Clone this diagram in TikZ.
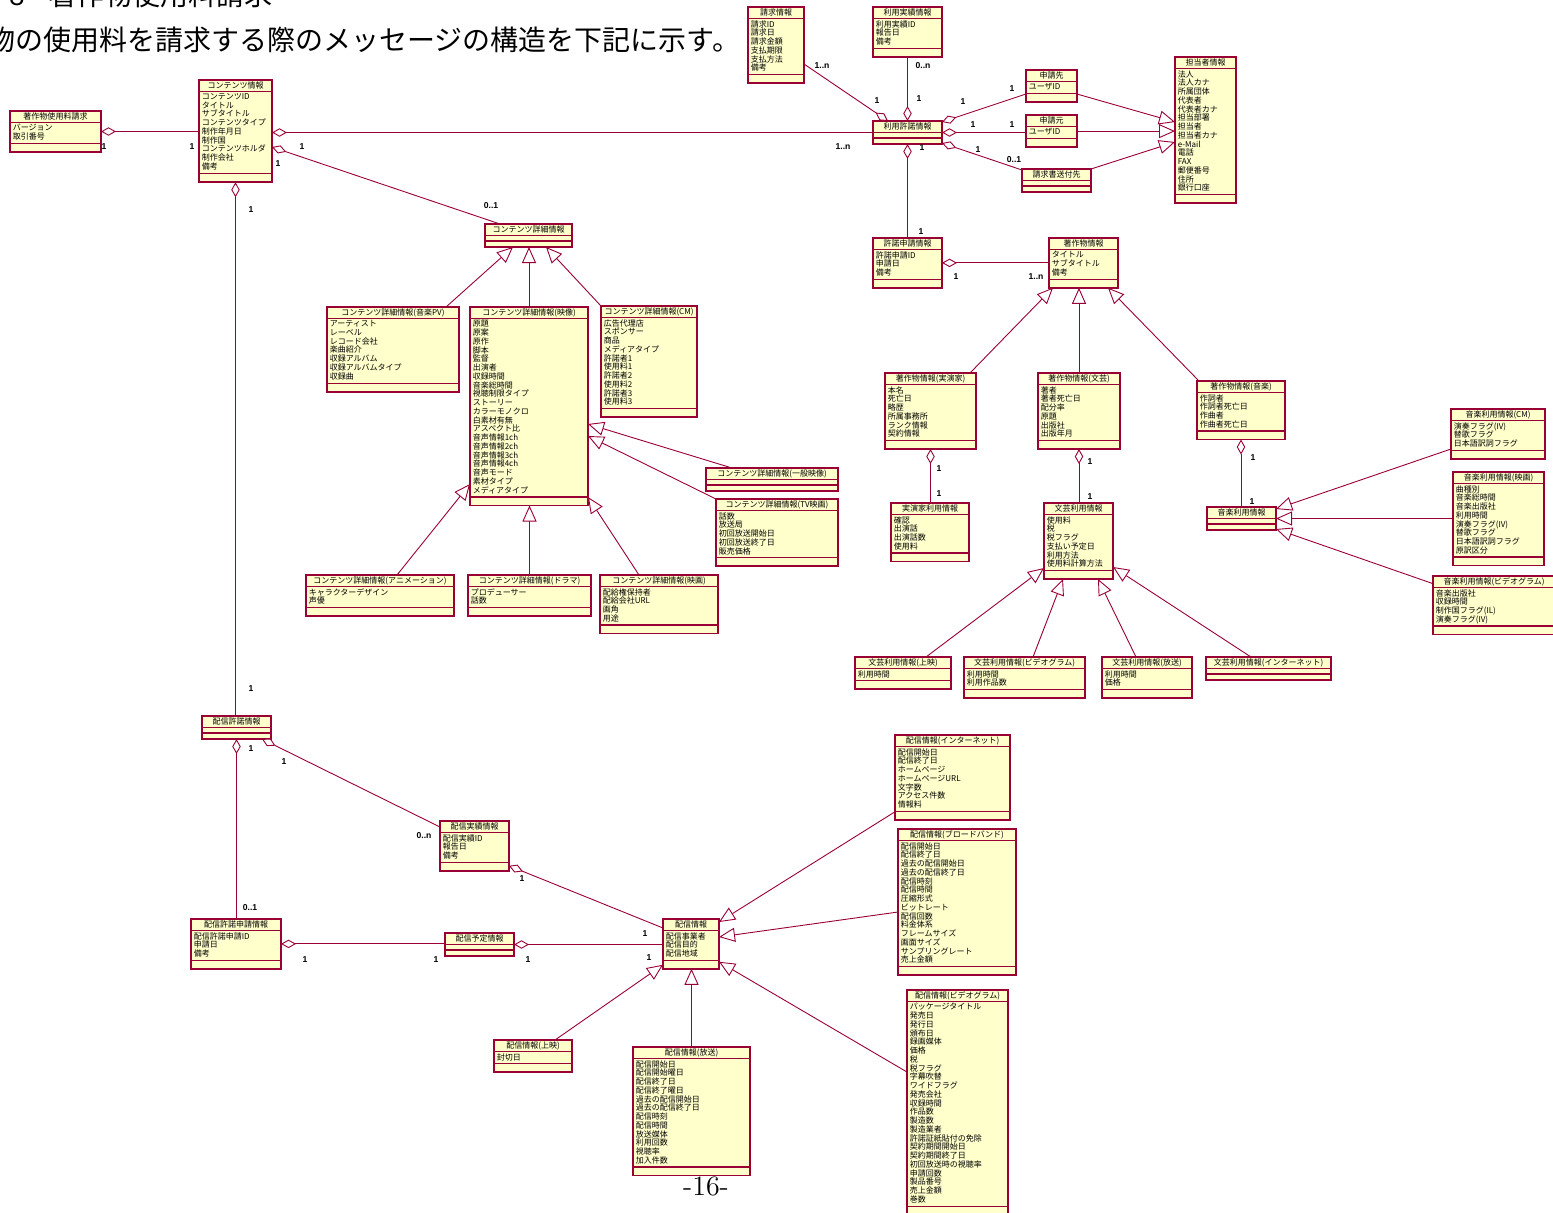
\documentclass[tikz,border=0pt]{standalone}
\usepackage{fontspec}
\usepackage{tikz}
\usetikzlibrary{arrows.meta,calc}
\newfontfamily\jpfont{Noto Sans CJK JP}
\newfontfamily\labfont{Liberation Sans}
\definecolor{umlred}{RGB}{153,0,51}
\definecolor{umlfill}{RGB}{255,255,204}

\tikzset{
  classbox/.style={draw=umlred, line width=0.8pt, fill=umlfill, inner sep=0pt, outer sep=0pt, anchor=north west},
  classtitle/.style={inner sep=0pt, font=\jpfont\fontsize{4}{4.375}\selectfont},
  classattr/.style={inner sep=0pt, anchor=north west, align=left, font=\jpfont\fontsize{4}{4.375}\selectfont},
  classline/.style={draw=umlred, line width=0.6pt},
  agg/.style={draw=umlred, line width=0.45pt, {Diamond[fill=white, length=7.5pt, width=4.2pt]}-},
  gen/.style={draw=umlred, line width=0.45pt, -{Triangle[fill=white, length=8pt, width=7pt]}},
  mult/.style={inner sep=0pt, font=\labfont\bfseries\fontsize{4.3}{5}\selectfont}
}

% class box: name, top left, width, attribute lines, title, attributes
\newcommand{\umlclass}[6]{%
  \pgfmathsetmacro{\partA}{ifthenelse(#4==0,5.5,#4*8.75+3.5)}%
  \pgfmathsetmacro{\partO}{ifthenelse(#4==0,6,8.5)}%
  \node[classbox, minimum width=#3*0.5pt, minimum height={(11.5+\partA+\partO)*0.5pt}] (#1) at #2 {};
  \node[classtitle] (#1-title) at ([yshift=-2.9pt]#1.north) {#5};
  \draw[classline] ([yshift=-5.75pt]#1.north west) -- ([yshift=-5.75pt]#1.north east);
  \draw[classline] ([yshift={-(11.5+\partA)*0.5pt}]#1.north west) -- ([yshift={-(11.5+\partA)*0.5pt}]#1.north east);
  \node[classattr] (#1-attr) at ([xshift=1.2pt,yshift=-6.5pt]#1.north west) {#6};
}

\begin{document}
\begin{tikzpicture}[x=0.5pt, y=-0.5pt]
    \useasboundingbox (0,0) rectangle (1553,1212);
    \clip (0,0) rectangle (1553,1212);

    \node[anchor=base west, inner sep=0pt, font=\jpfont\fontsize{14}{16}\selectfont] (head) at (9,5) {8\hspace{12pt}著作物使用料請求};
    \node[anchor=base west, inner sep=0pt, font=\jpfont\fontsize{14}{16}\selectfont] (intro) at (-13,50) {物の使用料を請求する際のメッセージの構造を下記に示す。};
    \node[font=\fontsize{14}{16}\selectfont] (page) at (706,1186) {-16-};

    % contents
    \umlclass{req}{(10,111)}{91}{2}{著作物使用料請求}{バージョン\\取引番号}
    \umlclass{content}{(199,80)}{73}{9}{コンテンツ情報}{コンテンツID\\タイトル\\サブタイトル\\コンテンツタイプ\\制作年月日\\制作国\\コンテンツホルダ\\制作会社\\備考}
    \umlclass{detail}{(485,224)}{87}{0}{コンテンツ詳細情報}{}
    \umlclass{pv}{(327,307)}{132}{7}{コンテンツ詳細情報(音楽PV)}{アーティスト\\レーベル\\レコード会社\\楽曲紹介\\収録アルバム\\収録アルバムタイプ\\収録曲}
    \umlclass{video}{(470,307)}{118}{20}{コンテンツ詳細情報(映像)}{原題\\原案\\原作\\脚本\\監督\\出演者\\収録時間\\音楽総時間\\視聴制限タイプ\\ストーリー\\カラーモノクロ\\白素材有無\\アスペクト比\\音声情報1ch\\音声情報2ch\\音声情報3ch\\音声情報4ch\\音声モード\\素材タイプ\\メディアタイプ}
    \umlclass{cm}{(601,306)}{96}{10}{コンテンツ詳細情報(CM)}{広告代理店\\スポンサー\\商品\\メディアタイプ\\許諾者1\\使用料1\\許諾者2\\使用料2\\許諾者3\\使用料3}
    \umlclass{general}{(706,468)}{132}{0}{コンテンツ詳細情報(一般映像)}{}
    \umlclass{tvmovie}{(716,499)}{122}{5}{コンテンツ詳細情報(TV映画)}{話数\\放送局\\初回放送開始日\\初回放送終了日\\販売価格}
    \umlclass{anime}{(306,575)}{148}{2}{コンテンツ詳細情報(アニメーション)}{キャラクターデザイン\\声優}
    \umlclass{drama}{(468,575)}{123}{2}{コンテンツ詳細情報(ドラマ)}{プロデューサー\\話数}
    \umlclass{film}{(600,575)}{118}{4}{コンテンツ詳細情報(映画)}{配給権保持者\\配給会社URL\\画角\\用途}

    % license and works
    \umlclass{claim}{(748,7)}{56}{6}{請求情報}{請求ID\\請求日\\請求金額\\支払期限\\支払方法\\備考}
    \umlclass{usage}{(873,7)}{69}{3}{利用実績情報}{利用実績ID\\報告日\\備考}
    \umlclass{license}{(873,121)}{69}{0}{利用許諾情報}{}
    \umlclass{applyto}{(1026,70)}{51}{1}{申請先}{ユーザID}
    \umlclass{applyfrom}{(1026,115)}{51}{1}{申請元}{ユーザID}
    \umlclass{sendto}{(1022,169)}{69}{0}{請求書送付先}{}
    \umlclass{person}{(1175,57)}{61}{14}{担当者情報}{法人\\法人カナ\\所属団体\\代表者\\代表者カナ\\担当部署\\担当者\\担当者カナ\\e-Mail\\電話\\FAX\\郵便番号\\住所\\銀行口座}
    \umlclass{permitapp}{(873,238)}{69}{3}{許諾申請情報}{許諾申請ID\\申請日\\備考}
    \umlclass{work}{(1049,238)}{69}{3}{著作物情報}{タイトル\\サブタイトル\\備考}
    \umlclass{performer}{(885,373)}{91}{6}{著作物情報(実演家)}{本名\\死亡日\\略歴\\所属事務所\\ランク情報\\契約情報}
    \umlclass{literary}{(1038,373)}{82}{6}{著作物情報(文芸)}{著者\\著者死亡日\\配分率\\原題\\出版社\\出版年月}
    \umlclass{musicwork}{(1197,381)}{88}{4}{著作物情報(音楽)}{作詞者\\作詞者死亡日\\作曲者\\作曲者死亡日}
    \umlclass{perfuse}{(891,503)}{78}{4}{実演家利用情報}{確認\\出演話\\出演話数\\使用料}
    \umlclass{lituse}{(1044,503)}{69}{6}{文芸利用情報}{使用料\\税\\税フラグ\\支払い予定日\\利用方法\\使用料計算方法}
    \umlclass{musicuse}{(1207,507)}{69}{0}{音楽利用情報}{}
    \umlclass{mcm}{(1451,409)}{94}{3}{音楽利用情報(CM)}{演奏フラグ(IV)\\替歌フラグ\\日本語訳詞フラグ}
    \umlclass{mfilm}{(1453,472)}{91}{8}{音楽利用情報(映画)}{曲種別\\音楽総時間\\音楽出版社\\利用時間\\演奏フラグ(IV)\\替歌フラグ\\日本語訳詞フラグ\\原訳区分}
    \umlclass{mvideo}{(1433,576)}{122}{4}{音楽利用情報(ビデオグラム)}{音楽出版社\\収録時間\\制作国フラグ(IL)\\演奏フラグ(IV)}
    \umlclass{litscreen}{(855,657)}{96}{1}{文芸利用情報(上映)}{利用時間}
    \umlclass{litvideo}{(964,657)}{121}{2}{文芸利用情報(ビデオグラム)}{利用時間\\利用作品数}
    \umlclass{litbroad}{(1102,657)}{90}{2}{文芸利用情報(放送)}{利用時間\\価格}
    \umlclass{litnet}{(1206,657)}{125}{0}{文芸利用情報(インターネット)}{}

    % distribution
    \umlclass{distlic}{(202,716)}{69}{0}{配信許諾情報}{}
    \umlclass{distresult}{(440,821)}{69}{3}{配信実績情報}{配信実績ID\\報告日\\備考}
    \umlclass{distapp}{(191,919)}{90}{3}{配信許諾申請情報}{配信許諾申請ID\\申請日\\備考}
    \umlclass{distplan}{(445,933)}{69}{0}{配信予定情報}{}
    \umlclass{dist}{(663,919)}{56}{3}{配信情報}{配信事業者\\配信目的\\配信地域}
    \umlclass{distnet}{(895,735)}{115}{7}{配信情報(インターネット)}{配信開始日\\配信終了日\\ホームページ\\ホームページURL\\文字数\\アクセス件数\\情報料}
    \umlclass{distbb}{(898,829)}{118}{14}{配信情報(ブロードバンド)}{配信開始日\\配信終了日\\過去の配信開始日\\過去の配信終了日\\配信時刻\\配信時間\\圧縮形式\\ビットレート\\配信回数\\料金体系\\フレームサイズ\\画面サイズ\\サンプリングレート\\売上金額}
    \umlclass{distscreen}{(494,1040)}{78}{1}{配信情報(上映)}{封切日}
    \umlclass{distbroad}{(633,1047)}{117}{12}{配信情報(放送)}{配信開始日\\配信開始曜日\\配信終了日\\配信終了曜日\\過去の配信開始日\\過去の配信終了日\\配信時刻\\配信時間\\放送媒体\\利用回数\\視聴率\\加入件数}
    \umlclass{distvideo}{(907,990)}{101}{23}{配信情報(ビデオグラム)}{パッケージタイトル\\発売日\\発行日\\頒布日\\録画媒体\\価格\\税\\税フラグ\\字幕吹替\\ワイドフラグ\\発売会社\\収録時間\\作品数\\製造数\\製造業者\\許諾証紙貼付の免除\\契約期間開始日\\契約期間終了日\\初回放送時の視聴率\\申請回数\\製品番号\\売上金額\\巻数}

    % aggregations
    \draw[agg] (req.east) -- (req.east -| content.west);
    \draw[agg] (license.west -| content.east) -- (license.west);
    \draw[agg] ([shift={(0,67)}]content.north east) -- ([shift={(15,0)}]detail.north west);
    \draw[agg] (content.south) -- (content.south |- distlic.north);
    \draw[agg] ([shift={(15,0)}]license.north west) -- ([shift={(0,57)}]claim.north east);
    \draw[agg] (license.north) -- (license.north |- usage.south);
    \draw[agg] ([shift={(0,1)}]license.north east) -- ([shift={(0,24)}]applyto.north west);
    \draw[agg] (license.east) -- (license.east -| applyfrom.west);
    \draw[agg] ([shift={(0,-1)}]license.south east) -- ([shift={(0,1)}]sendto.north west);
    \draw[agg] (license.south) -- (license.south |- permitapp.north);
    \draw[agg] (permitapp.east) -- (permitapp.east -| work.west);
    \draw[agg] (performer.south) -- (performer.south |- perfuse.north);
    \draw[agg] (literary.south) -- (literary.south |- lituse.north);
    \draw[agg] (musicwork.south) -- (musicwork.south |- musicuse.north);
    \draw[agg] (distlic.south) -- (distlic.south |- distapp.north);
    \draw[agg] ([shift={(-9,0)}]distlic.south east) -- ([shift={(0,6)}]distresult.north west);
    \draw[agg] ([shift={(0,-5)}]distresult.south east) -- ([shift={(0,9)}]dist.north west);
    \draw[agg] (distapp.east) -- (distapp.east -| distplan.west);
    \draw[agg] (distplan.east) -- (distplan.east -| dist.west);

    % generalizations
    \draw[gen] ([shift={(0,24)}]applyto.north east) -- ([shift={(0,65)}]person.north west);
    \draw[gen] (applyfrom.east) -- (applyfrom.east -| person.west);
    \draw[gen] (sendto.north east) -- ([shift={(0,85)}]person.north west);
    \draw[gen] ([shift={(119,0)}]pv.north west) -- ([shift={(28,0)}]detail.south west);
    \draw[gen] (video.north) -- (video.north |- detail.south);
    \draw[gen] (cm.north west) -- ([shift={(61,0)}]detail.south west);
    \draw[gen] ([shift={(26,0)}]general.north west) -- ([shift={(0,117)}]video.north east);
    \draw[gen] (tvmovie.north west) -- ([shift={(0,129)}]video.north east);
    \draw[gen] ([shift={(91,0)}]anime.north west) -- ([shift={(0,177)}]video.north west);
    \draw[gen] (drama.north) -- (drama.north |- video.south);
    \draw[gen] ([shift={(39,0)}]film.north west) -- ([shift={(0,190)}]video.north east);
    \draw[gen] ([shift={(85,0)}]performer.north west) -- ([shift={(4,0)}]work.south west);
    \draw[gen] (literary.north) -- (literary.north |- work.south);
    \draw[gen] ([shift={(2,0)}]musicwork.north west) -- ([shift={(59,0)}]work.south west);
    \draw[gen] ([shift={(0,40)}]mcm.north west) -- ([shift={(0,2)}]musicuse.north east);
    \draw[gen] (musicuse.east -| mfilm.west) -- (musicuse.east);
    \draw[gen] ([shift={(1,8)}]mvideo.north west) -- ([shift={(0,-1)}]musicuse.south east);
    \draw[gen] ([shift={(71,0)}]litscreen.north west) -- ([shift={(0,65)}]lituse.north west);
    \draw[gen] ([shift={(69,0)}]litvideo.north west) -- ([shift={(19,0)}]lituse.south west);
    \draw[gen] ([shift={(34,0)}]litbroad.north west) -- ([shift={(54,0)}]lituse.south west);
    \draw[gen] ([shift={(45,0)}]litnet.north west) -- ([shift={(0,64)}]lituse.north east);
    \draw[gen] ([shift={(0,-8)}]distnet.south west) -- ([shift={(0,3)}]dist.north east);
    \draw[gen] ([shift={(0,83)}]distbb.north west) -- ([shift={(0,18)}]dist.north east);
    \draw[gen] ([shift={(0,82)}]distvideo.north west) -- ([shift={(0,-7)}]dist.south east);
    \draw[gen] ([shift={(61,0)}]distscreen.north west) -- ([shift={(0,-4)}]dist.south west);
    \draw[gen] (distbroad.north) -- (distbroad.north |- dist.south);

    % multiplicities
    \foreach \mx/\my/\mt [count=\i] in {104/147/1, 192/147/1, 302/147/1, 843/147/1..n,
        278/164/1, 491/206/0..1, 251/210/1, 251/689/1, 822/66/1..n, 877/101/1,
        923/66/0..n, 919/99/1, 963/102/1, 1012/89/1, 973/125/1, 1012/125/1,
        978/150/1, 1014/160/0..1, 922/148/1, 921/232/1, 956/277/1, 1036/277/1..n,
        939/469/1, 939/494/1, 1090/462/1, 1090/497/1, 1253/458/1, 1252/502/1,
        251/749/1, 250/908/0..1, 284/762/1, 424/836/0..n, 522/879/1, 645/934/1,
        305/960/1, 436/960/1, 528/960/1, 649/958/1}
        \node[mult] (mult\i) at (\mx,\my) {\mt};
\end{tikzpicture}
\end{document}
